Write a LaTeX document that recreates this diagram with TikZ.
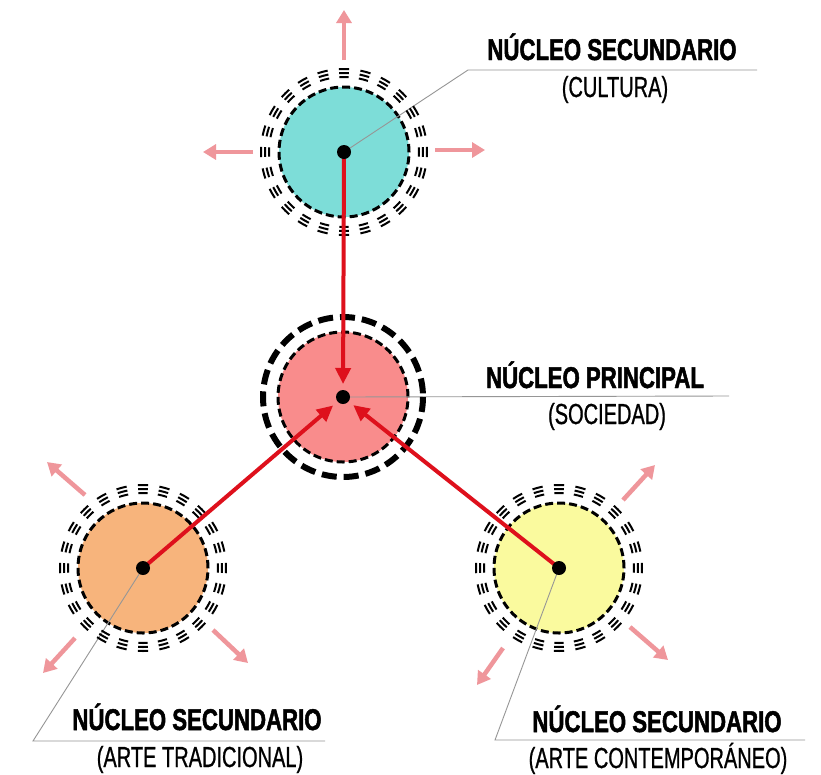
\documentclass[tikz,border=0pt]{standalone}
\usepackage{fontspec}
\setmainfont{Liberation Sans}
\newfontfamily\titlefont[FakeStretch=0.74,FakeBold=1.6]{Liberation Sans}
\newfontfamily\subfont[FakeStretch=0.69,FakeBold=0.8]{Liberation Sans}
\usetikzlibrary{arrows.meta}
\definecolor{cyanfill}{RGB}{125,221,216}
\definecolor{pinkfill}{RGB}{249,140,140}
\definecolor{orangefill}{RGB}{247,180,124}
\definecolor{yellowfill}{RGB}{250,250,158}
\definecolor{redarrow}{RGB}{222,16,28}
\definecolor{pinkarrow}{RGB}{239,150,155}
\definecolor{leadergray}{RGB}{150,150,150}
\newcommand\tripring[1]{%
  \foreach \a in {0,15,...,345}{%
    \foreach \r in {75,79,83}{%
      \draw[line width=2pt] (#1) ++(\a-3.6:\r) arc[start angle=\a-3.6,end angle=\a+3.6,radius=\r];
    }}}
\begin{document}
\begin{tikzpicture}[x=1pt,y=-1pt,
  core/.style={circle, draw=black, line width=3pt, dash pattern=on 8pt off 4pt, minimum size=130pt, inner sep=0pt},
  centerdot/.style={circle, fill=black, minimum size=14pt, inner sep=0pt},
  flow/.style={draw=redarrow, line width=4pt, -{Triangle[length=16pt,width=15pt]}, shorten >=13pt},
  spread/.style={draw=pinkarrow, line width=4.5pt, -{Triangle[length=13pt,width=15pt]}},
  leaderline/.style={draw=leadergray, line width=0.9pt},
  titletext/.style={font=\titlefont\bfseries\fontsize{30}{30}\selectfont, anchor=base, inner sep=0pt},
  subtext/.style={font=\subfont\fontsize{29}{29}\selectfont, anchor=base, inner sep=0pt}]
\fill[white] (0,0) rectangle (821,774);
\useasboundingbox (0,0) rectangle (821,774);

% centres
\coordinate (cT) at (344,152);
\coordinate (cM) at (343,397);
\coordinate (cL) at (143,568);
\coordinate (cR) at (559,568);

% filled cores
\node[core, fill=cyanfill] (T) at (cT) {};
\node[core, fill=pinkfill] (M) at (cM) {};
\node[core, fill=orangefill] (L) at (cL) {};
\node[core, fill=yellowfill] (R) at (cR) {};

% leader lines
\coordinate (kT) at (468,70);  \coordinate (eT) at (757,70);
\coordinate (eM) at (729,396);
\coordinate (kL) at (33,741);  \coordinate (eL) at (325,741);
\coordinate (kR) at (495,740); \coordinate (eR) at (805,740);
\draw[leaderline] (cT) -- (kT) -- (eT);
\draw[leaderline] (cM) -- (eM);
\draw[leaderline] (cL) -- (kL) -- (eL);
\draw[leaderline] (cR) -- (kR) -- (eR);

% rings
\tripring{cT}
\tripring{cL}
\tripring{cR}
\draw[line width=6pt, dash pattern=on 15pt off 7pt] (cM) circle[radius=80];

% pink spreading arrows
\coordinate (t1a) at (344,60);  \coordinate (t1b) at (344,10);
\coordinate (t2a) at (253,152); \coordinate (t2b) at (203,152);
\coordinate (t3a) at (435,150); \coordinate (t3b) at (485,150);
\coordinate (l1a) at (85,495);  \coordinate (l1b) at (47,462);
\coordinate (l2a) at (75,638);  \coordinate (l2b) at (43,673);
\coordinate (l3a) at (213,630); \coordinate (l3b) at (248,663);
\coordinate (r1a) at (623,500); \coordinate (r1b) at (655,465);
\coordinate (r2a) at (630,627); \coordinate (r2b) at (668,660);
\coordinate (r3a) at (503,648); \coordinate (r3b) at (477,685);
\foreach \p in {t1,t2,t3,l1,l2,l3,r1,r2,r3}{\draw[spread] (\p a) -- (\p b);}

% red flows
\draw[flow] (cT) -- (cM);
\draw[flow] (cL) -- (cM);
\draw[flow] (cR) -- (cM);

% dots
\node[centerdot] (dT) at (cT) {};
\node[centerdot] (dM) at (cM) {};
\node[centerdot] (dL) at (cL) {};
\node[centerdot] (dR) at (cR) {};

% labels
\node[titletext] (labT) at (612,60) {NÚCLEO SECUNDARIO};
\node[subtext] (subT) at (615,97) {(CULTURA)};
\node[titletext] (labM) at (595,388) {NÚCLEO PRINCIPAL};
\node[subtext] (subM) at (607,424) {(SOCIEDAD)};
\node[titletext] (labL) at (197,730) {NÚCLEO SECUNDARIO};
\node[subtext] (subL) at (200,767) {(ARTE TRADICIONAL)};
\node[titletext] (labR) at (657,732) {NÚCLEO SECUNDARIO};
\node[subtext] (subR) at (658,768) {(ARTE CONTEMPORÁNEO)};
\end{tikzpicture}
\end{document}
